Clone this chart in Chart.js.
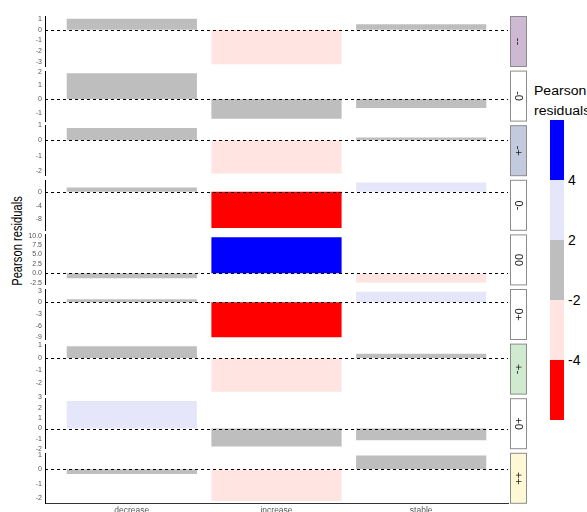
<!DOCTYPE html>
<html>
<head>
<meta charset="utf-8">
<script src="https://cdn.jsdelivr.net/npm/chart.js@4.4.0/dist/chart.umd.min.js"></script>
<style>
  body { margin: 0; width: 587px; height: 512px; overflow: hidden; position: relative; background: #fff;
         font-family: "Liberation Sans", Arial, sans-serif; }
  canvas { position: absolute; left: 0; }
  #ytitle { position: absolute; left: -83px; top: 233px; width: 200px; text-align: center;
            font-size: 14px; color: #000; transform: rotate(-90deg) scaleX(0.8); }
  #legTitle { position: absolute; left: 534px; top: 81px; font-size: 12px; line-height: 20px; color: #000;
              white-space: nowrap; transform: scaleX(1.17); transform-origin: left top; }
  #legBar { position: absolute; left: 550px; top: 120px; width: 14px; }
  .legLab { position: absolute; left: 568px; font-size: 14px; color: #000; line-height: 14px; }
</style>
</head>
<body>
<div id="ytitle">Pearson residuals</div>
<div id="legTitle">Pearson<br>residuals</div>
<div id="legBar"></div>

<script>
const FONT = '"Liberation Sans", Arial, sans-serif';

// categories on the x axis
const categories = ['decrease', 'increase', 'stable'];

// facet strips, top to bottom
const panelLabels = ['--', '-0', '-+', '0-', '00', '0+', '+-', '+0', '++'];
const stripColors = ['#cdb9d1', '#ffffff', '#c3cadd', '#ffffff', '#ffffff', '#ffffff', '#cfeacf', '#ffffff', '#fef9d4'];

// residuals per panel: decrease, increase, stable
const resMM = [1.0, -3.18, 0.49];
const resMZ = [1.88, -1.45, -0.66];
const resMP = [0.8, -2.14, 0.19];
const resZM = [1.27, -10.5, 2.7];
const resZZ = [-1.33, 9.6, -2.5];
const resZP = [0.77, -8.95, 2.72];
const resPM = [0.93, -2.7, 0.35];
const resPZ = [2.65, -1.72, -1.13];
const resPP = [-0.32, -2.18, 0.95];
const panelValues = [resMM, resMZ, resMP, resZM, resZZ, resZP, resPM, resPZ, resPP];

// y tick labels per panel
const ticksMM = ['1', '0', '-1', '-2', '-3'];
const ticksMZ = ['2', '1', '0', '-1'];
const ticksMP = ['1', '0', '-1', '-2'];
const ticksZM = ['0', '-4', '-8'];
const ticksZZ = ['10.0', '7.5', '5.0', '2.5', '0.0', '-2.5'];
const ticksZP = ['3', '0', '-3', '-6', '-9'];
const ticksPM = ['1', '0', '-1', '-2'];
const ticksPZ = ['3', '2', '1', '0', '-1', '-2'];
const ticksPP = ['1', '0', '-1', '-2'];
const panelTicks = [ticksMM, ticksMZ, ticksMP, ticksZM, ticksZZ, ticksZP, ticksPM, ticksPZ, ticksPP];

// shading of the residuals
const legendBreaks = ['4', '2', '-2', '-4'];
const legendColors = ['#0000ff', '#e6e6fa', '#bebebe', '#ffe4e1', '#ff0000'];

function fillFor(v) {
  if (v > 4) return legendColors[0];
  if (v > 2) return legendColors[1];
  if (v >= -2) return legendColors[2];
  if (v >= -4) return legendColors[3];
  return legendColors[4];
}

/* ---------- legend ---------- */
const legBar = document.getElementById('legBar');
legendColors.forEach(c => {
  const d = document.createElement('div');
  d.style.height = '60px';
  d.style.background = c;
  legBar.appendChild(d);
});
legendBreaks.forEach((b, k) => {
  const d = document.createElement('div');
  d.className = 'legLab';
  d.textContent = b;
  d.style.top = (120 + 60 * (k + 1) - 7) + 'px';
  document.body.appendChild(d);
});

/* ---------- panels ---------- */
const panelDeco = {
  id: 'panelDeco',
  afterDatasetsDraw(chart, args, opts) {
    const { ctx, chartArea: a } = chart;
    const y0 = Math.round(chart.scales.y.getPixelForValue(0)) + 0.5;
    ctx.save();
    ctx.strokeStyle = '#000';
    ctx.lineWidth = 1;
    ctx.setLineDash([3, 3]);
    ctx.beginPath();
    ctx.moveTo(a.left, y0);
    ctx.lineTo(a.right, y0);
    ctx.stroke();

    ctx.setLineDash([]);
    const sx = Math.round(a.right) + 2.5, sw = 16;
    ctx.fillStyle = opts.fill;
    ctx.fillRect(sx, a.top, sw, a.bottom - a.top);
    ctx.strokeStyle = '#8c8c8c';
    ctx.strokeRect(sx, a.top, sw, a.bottom - a.top);

    ctx.translate(sx + sw / 2, (a.top + a.bottom) / 2);
    ctx.rotate(Math.PI / 2);
    ctx.fillStyle = '#1a1a1a';
    ctx.font = '11px ' + FONT;
    ctx.textAlign = 'center';
    ctx.textBaseline = 'middle';
    ctx.fillText(opts.label, 0, 0);
    ctx.restore();
  }
};

const PANEL_TOP = 16.5, PANEL_STEP = 54.6, PANEL_H = 50;
const PLOT_LEFT = 45, PLOT_RIGHT = 508, W = 587;

panelValues.forEach((vals, i) => {
  const last = i === panelValues.length - 1;
  const top = PANEL_TOP + PANEL_STEP * i;
  const canvasTop = Math.floor(top) - 8;
  const padTop = top - canvasTop;
  const h = last ? 512 - canvasTop : Math.ceil(padTop + PANEL_H + 8);
  const xH = last ? h - padTop - PANEL_H : 0;
  const padBottom = last ? 0 : h - padTop - PANEL_H;

  const canvas = document.createElement('canvas');
  canvas.width = W;
  canvas.height = h;
  canvas.style.top = canvasTop + 'px';
  canvas.style.width = W + 'px';
  canvas.style.height = h + 'px';
  document.body.appendChild(canvas);

  const lo = Math.min(0, ...vals), hi = Math.max(0, ...vals);
  const pad = 0.05 * (hi - lo);
  const tickLabels = panelTicks[i];

  new Chart(canvas, {
    type: 'bar',
    data: {
      datasets: [{
        data: vals.map((v, k) => ({ x: k + 1, y: v })),
        backgroundColor: vals.map(fillFor),
        borderWidth: 0,
        categoryPercentage: 1,
        barPercentage: 0.9
      }]
    },
    options: {
      responsive: false,
      animation: false,
      devicePixelRatio: 1,
      layout: { padding: { top: padTop, bottom: padBottom, left: 0, right: W - PLOT_RIGHT } },
      plugins: {
        legend: { display: false },
        tooltip: { enabled: false },
        panelDeco: { fill: stripColors[i], label: panelLabels[i] }
      },
      scales: {
        x: {
          type: 'linear',
          min: 0.4,
          max: 3.6,
          offset: false,
          display: last,
          afterBuildTicks: s => { s.ticks = categories.map((c, k) => ({ value: k + 1 })); },
          afterFit: s => { if (last) s.height = xH; },
          ticks: {
            callback: v => categories[v - 1],
            autoSkip: false,
            maxRotation: 0,
            padding: 2,
            color: '#555',
            font: { size: 8.5, family: FONT }
          },
          grid: { display: false, drawTicks: false, offset: false },
          border: { display: true, color: '#333', width: 1 }
        },
        y: {
          min: lo - pad,
          max: hi + pad,
          afterBuildTicks: s => {
            s.ticks = tickLabels.map(t => ({ value: parseFloat(t) })).sort((a, b) => a.value - b.value);
          },
          afterFit: s => { s.width = PLOT_LEFT; },
          ticks: {
            callback: v => tickLabels.find(t => parseFloat(t) === v),
            autoSkip: false,
            padding: 3,
            color: '#555',
            font: { size: 7, family: FONT }
          },
          grid: { display: false, drawTicks: false },
          border: { display: true, color: '#000', width: 1 }
        }
      }
    },
    plugins: [panelDeco]
  });
});
</script>
</body>
</html>
